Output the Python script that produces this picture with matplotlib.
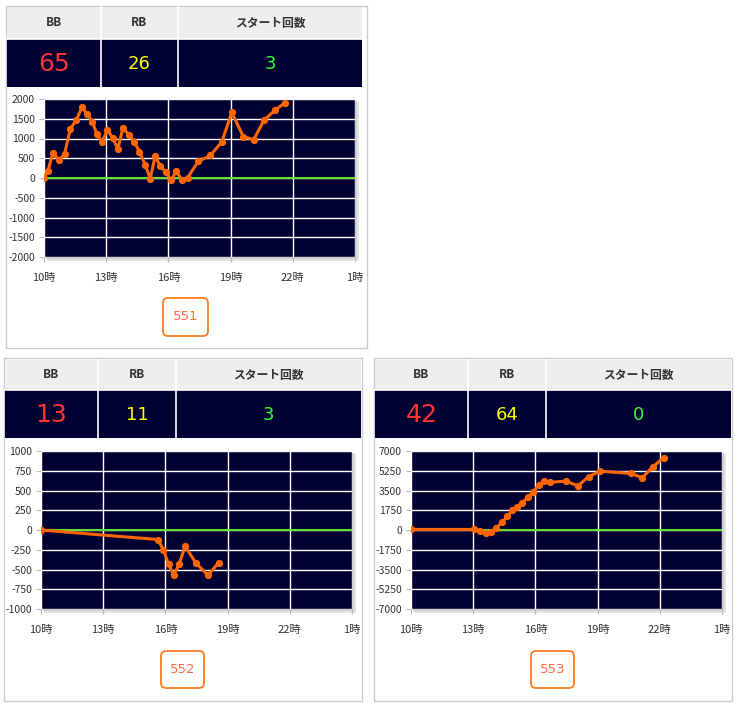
import matplotlib
matplotlib.use("Agg")
import matplotlib.pyplot as plt
from matplotlib.patches import Rectangle, FancyBboxPatch

plt.rcParams['font.family'] = ['Noto Sans CJK JP', 'DejaVu Sans']

# ---------------- data ----------------
hour_ticks = [10, 13, 16, 19, 22, 25]
hour_labels = ["10時", "13時", "16時", "19時", "22時", "1時"]
header_labels = ["BB", "RB", "スタート回数"]

machines = ["551", "552", "553"]
bb_counts = [65, 13, 42]
rb_counts = [26, 11, 64]
start_counts = [3, 3, 0]

t551 = [10.0, 10.19, 10.43, 10.72, 10.99, 11.27, 11.56, 11.83, 12.07, 12.33, 12.55, 12.81,
        13.05, 13.32, 13.56, 13.80, 14.12, 14.36, 14.60, 14.88, 15.12, 15.36, 15.60, 15.89,
        16.13, 16.37, 16.66, 16.93, 17.44, 18.02, 18.57, 19.06, 19.61, 20.11, 20.62, 21.13, 21.63]
v551 = [10, 185, 630, 460, 605, 1245, 1470, 1790, 1620, 1430, 1110, 910,
        1220, 1010, 730, 1260, 1090, 910, 670, 340, -20, 550, 310, 140,
        -60, 170, -50, 10, 420, 570, 910, 1660, 1050, 970, 1470, 1710, 1910]

t552 = [10.0, 15.65, 15.89, 16.16, 16.40, 16.66, 16.95, 17.46, 18.05, 18.57]
v552 = [0, -121, -247, -435, -573, -435, -205, -414, -573, -414]

t553 = [10.0, 13.05, 13.35, 13.60, 13.84, 14.12, 14.38, 14.64, 14.89, 15.13, 15.37, 15.65,
        15.90, 16.16, 16.40, 16.69, 17.46, 18.05, 18.57, 19.10, 20.62, 21.15, 21.66, 22.18]
v553 = [50, 50, -90, -260, -200, 210, 670, 1200, 1730, 2080, 2430, 2900,
        3400, 3980, 4330, 4220, 4330, 3920, 4720, 5210, 5010, 4630, 5590, 6410]

yticks551 = [-2000, -1500, -1000, -500, 0, 500, 1000, 1500, 2000]
yticks552 = [-1000, -750, -500, -250, 0, 250, 500, 750, 1000]
yticks553 = [-7000, -5250, -3500, -1750, 0, 1750, 3500, 5250, 7000]

# ---------------- layout (pixels) ----------------
W, H = 736, 708
fig = plt.figure(figsize=(W / 100, H / 100), dpi=100)
bg = fig.add_axes([0, 0, 1, 1], zorder=0)
bg.set_xlim(0, W)
bg.set_ylim(H, 0)
bg.axis('off')

NAVY = '#000033'
panels = [
    dict(box=(6, 6, 367, 348), cols=(7, 101, 178, 362), hdr=(7, 39), val=(39, 87),
         plot=(44, 99, 355, 257), btn=(163, 298, 208, 336)),
    dict(box=(4, 358, 362, 701), cols=(5, 98, 176, 361), hdr=(360, 390), val=(390, 438),
         plot=(41, 451, 352, 609), btn=(161, 651, 204, 688)),
    dict(box=(374, 358, 732, 701), cols=(375, 468, 546, 731), hdr=(360, 390), val=(390, 438),
         plot=(411, 451, 722, 609), btn=(531, 651, 574, 688)),
]
series = [(t551, v551, yticks551), (t552, v552, yticks552), (t553, v553, yticks553)]

for i, p in enumerate(panels):
    x0, y0, x1, y1 = p['box']
    bg.add_patch(Rectangle((x0, y0), x1 - x0, y1 - y0, facecolor='white', edgecolor='#cccccc', lw=1))
    c = p['cols']
    h0, h1 = p['hdr']
    v0, v1 = p['val']
    bg.add_patch(Rectangle((c[0], h0), c[3] - c[0], h1 - h0, facecolor='#eeeeee', edgecolor='none'))
    bg.add_patch(Rectangle((c[0], v0), c[3] - c[0], v1 - v0, facecolor=NAVY, edgecolor='none'))
    bg.plot([c[0], c[3]], [v0, v0], color='white', lw=1.2)
    for cx in (c[1], c[2]):
        bg.plot([cx, cx], [h0, v1], color='white', lw=1.2)
    vals = [str(bb_counts[i]), str(rb_counts[i]), str(start_counts[i])]
    vcolors = ['#ff3333', '#ffff00', '#33ff33']
    vsizes = [18, 13, 13]
    for j in range(3):
        cxm = (c[j] + c[j + 1]) / 2
        bg.text(cxm, (h0 + h1) / 2, header_labels[j], ha='center', va='center',
                fontsize=8.5, color='#333333', fontweight='bold')
        bg.text(cxm, (v0 + v1) / 2 + 1, vals[j], ha='center', va='center',
                fontsize=vsizes[j], color=vcolors[j], family=['DejaVu Sans'])
    # shadow behind plot
    px0, py0, px1, py1 = p['plot']
    bg.add_patch(Rectangle((px0 + 3, py0 + 3), px1 - px0 + 1, py1 - py0 + 1, facecolor='#e4e4e4', edgecolor='none'))
    bg.add_patch(Rectangle((px0 + 2, py0 + 2), px1 - px0, py1 - py0, facecolor='#d0d0d0', edgecolor='none'))
    # button
    bx0, by0, bx1, by1 = p['btn']
    bg.add_patch(FancyBboxPatch((bx0, by0), bx1 - bx0, by1 - by0,
                                boxstyle='round,pad=0,rounding_size=5',
                                facecolor='white', edgecolor='#ff7a1a', lw=1.3))
    bg.text((bx0 + bx1) / 2, (by0 + by1) / 2, machines[i], ha='center', va='center',
            fontsize=9.5, color='#ff6a3d', family=['DejaVu Sans'])

    # chart
    ax = fig.add_axes([px0 / W, 1 - py1 / H, (px1 - px0) / W, (py1 - py0) / H], zorder=2)
    t, v, yt = series[i]
    ax.set_facecolor(NAVY)
    ax.set_xlim(10, 25)
    ax.set_ylim(yt[0], yt[-1])
    ax.set_xticks(hour_ticks)
    ax.set_xticklabels(hour_labels)
    ax.set_yticks(yt)
    ax.set_yticklabels([str(y) for y in yt])
    ax.grid(True, color='white', lw=1)
    ax.set_axisbelow(True)
    for s in ax.spines.values():
        s.set_visible(False)
    ax.tick_params(axis='both', colors='#bbbbbb', labelcolor='#333333', labelsize=7.5,
                   length=3.5, width=0.8)
    ax.tick_params(axis='x', pad=8, labelsize=8)
    ax.tick_params(axis='y', pad=3)
    ax.axhline(0, color='#66dd33', lw=1.5, zorder=3)
    ax.plot(t, v, color='#ff6600', lw=2.2, marker='o', markersize=4.2, zorder=4,
            solid_joinstyle='round')

fig.savefig('out.png', dpi=100)
